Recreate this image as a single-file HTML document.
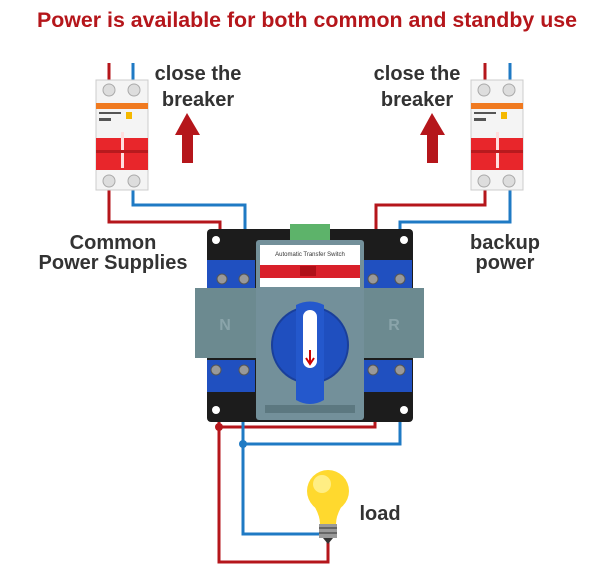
<!DOCTYPE html>
<html><head><meta charset="utf-8"><style>
html,body{margin:0;padding:0;background:#fff;width:603px;height:580px;overflow:hidden}
svg{display:block}
text{font-family:"Liberation Sans",sans-serif;font-weight:bold}
</style></head><body>
<svg width="603" height="580" viewBox="0 0 603 580">
<text x="307" y="27" text-anchor="middle" font-size="21" fill="#b5161b" textLength="540" lengthAdjust="spacingAndGlyphs">Power is available for both common and standby use</text>

<g fill="none" stroke-width="3">
<path d="M109 63V82M109 190V222H220V262" stroke="#b5161b"/>
<path d="M133 63V82M133 190V205H245V262" stroke="#1f7ac4"/>
<path d="M485 63V82M485 190V205H376V262" stroke="#b5161b"/>
<path d="M510 63V82M510 190V222H400V262" stroke="#1f7ac4"/>
<path d="M219 390V562H328V542M219 427H375V390" stroke="#b5161b"/>
<path d="M243 390V534H322M243 444H400V390" stroke="#1f7ac4"/>
</g>
<circle cx="219" cy="427" r="4" fill="#b5161b"/>
<circle cx="243" cy="444" r="4" fill="#1f7ac4"/>

<g id="brk">
<rect x="96" y="80" width="52" height="110" fill="#f4f4f4" stroke="#ccc"/>
<circle cx="109" cy="90" r="6" fill="#ddd" stroke="#aaa"/>
<circle cx="134" cy="90" r="6" fill="#ddd" stroke="#aaa"/>
<rect x="96" y="103" width="52" height="6" fill="#f07a20"/>
<rect x="126" y="112" width="6" height="7" fill="#f5b800"/>
<rect x="99" y="112" width="22" height="2" fill="#555"/>
<rect x="99" y="118" width="12" height="3" fill="#555"/>
<rect x="96" y="138" width="52" height="32" fill="#e8262b"/>
<rect x="121" y="132" width="3" height="36" fill="#ffdede"/>
<rect x="96" y="150" width="52" height="3" fill="#b81a1e"/>
<circle cx="109" cy="181" r="6" fill="#ddd" stroke="#aaa"/>
<circle cx="134" cy="181" r="6" fill="#ddd" stroke="#aaa"/>
</g>
<use href="#brk" transform="translate(375,0)"/>

<g font-size="20" fill="#333" text-anchor="middle">
<text x="198" y="80">close the</text><text x="198" y="106">breaker</text>
<text x="417" y="80">close the</text><text x="417" y="106">breaker</text>
<text x="113" y="249">Common</text><text x="113" y="269">Power Supplies</text>
<text x="505" y="249">backup</text><text x="505" y="269">power</text>
<text x="380" y="520">load</text>
</g>
<path d="M187 113L175 135H182V163H193V135H200Z" fill="#b5161b"/>
<path d="M432 113L420 135H427V163H438V135H445Z" fill="#b5161b"/>

<rect x="207" y="229" width="206" height="193" rx="4" fill="#1c1c1c"/>
<circle cx="216" cy="240" r="4" fill="#fff"/><circle cx="404" cy="240" r="4" fill="#fff"/>
<circle cx="216" cy="410" r="4" fill="#fff"/><circle cx="404" cy="410" r="4" fill="#fff"/>
<rect x="290" y="224" width="40" height="17" fill="#5db36a"/>
<g fill="#2050c0">
<rect x="207" y="260" width="48" height="30"/><rect x="364" y="260" width="48" height="30"/>
<rect x="207" y="360" width="48" height="32"/><rect x="364" y="360" width="48" height="32"/>
</g>
<g fill="#999" stroke="#555">
<circle cx="222" cy="279" r="5"/><circle cx="244" cy="279" r="5"/><circle cx="373" cy="279" r="5"/><circle cx="400" cy="279" r="5"/>
<circle cx="216" cy="370" r="5"/><circle cx="244" cy="370" r="5"/><circle cx="373" cy="370" r="5"/><circle cx="400" cy="370" r="5"/>
</g>
<rect x="195" y="288" width="61" height="70" fill="#6c8a90"/>
<rect x="364" y="288" width="60" height="70" fill="#6c8a90"/>
<text x="225" y="330" font-size="16" fill="#8aa4aa" text-anchor="middle">N</text>
<text x="394" y="330" font-size="16" fill="#8aa4aa" text-anchor="middle">R</text>
<rect x="256" y="240" width="108" height="180" rx="3" fill="#73909a"/>
<rect x="260" y="245" width="100" height="42" fill="#fff"/>
<rect x="260" y="265" width="100" height="13" fill="#d9202a"/>
<rect x="300" y="266" width="16" height="10" fill="#b01018"/>
<text x="310" y="256" font-size="6" fill="#333" text-anchor="middle" style="font-weight:normal">Automatic Transfer Switch</text>
<circle cx="310" cy="345" r="38" fill="#1f4fbf" stroke="#1a3f9a" stroke-width="2"/>
<path d="M296 305Q310 298 324 305V400Q310 408 296 400Z" fill="#2458cc"/>
<rect x="303" y="310" width="14" height="58" rx="7" fill="#fff"/>
<path d="M310 350V362M306 358L310 364L314 358" stroke="#c00" stroke-width="2" fill="none"/>
<rect x="265" y="405" width="90" height="8" fill="#5c7880"/>

<circle cx="328" cy="491" r="21" fill="#ffd92e"/>
<path d="M313 504Q320 515 320 524H336Q336 515 343 504Z" fill="#ffd92e"/>
<circle cx="322" cy="484" r="9" fill="#fff6a8" opacity=".7"/>
<rect x="319" y="524" width="18" height="14" fill="#9a9a9a"/>
<rect x="319" y="527" width="18" height="2" fill="#666"/><rect x="319" y="532" width="18" height="2" fill="#666"/>
<path d="M323 538H333L328 544Z" fill="#333"/>
</svg>
</body></html>
